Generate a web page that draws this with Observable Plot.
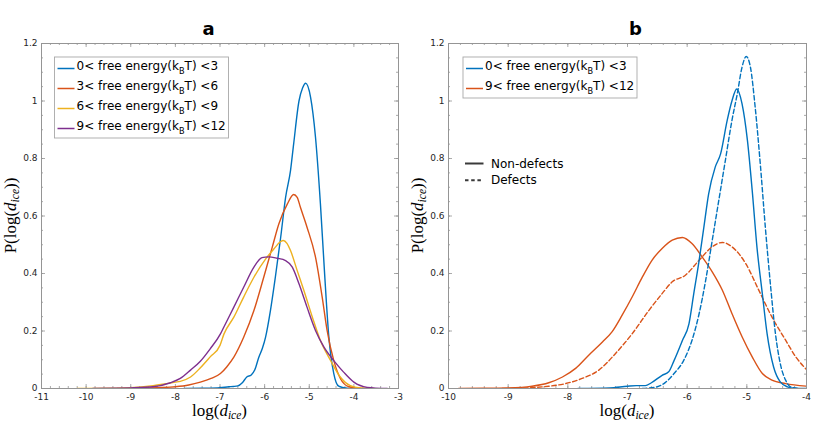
<!DOCTYPE html>
<html><head><meta charset="utf-8">
<script src="https://cdn.jsdelivr.net/npm/d3@7"></script>
<script src="https://cdn.jsdelivr.net/npm/@observablehq/plot@0.6"></script>
<style>
body{margin:0;background:#fff}
#wrap{position:relative;width:830px;height:432px;background:#fff}
#wrap svg{display:block;position:absolute;top:0;overflow:visible}
</style>
</head><body><div id="wrap"></div>
<script>
// ---------- tick labels ----------
const xTicksA = [-11,-10,-9,-8,-7,-6,-5,-4,-3];
const xTicksB = [-10,-9,-8,-7,-6,-5,-4];
const yTicks = [0,0.2,0.4,0.6,0.8,1,1.2];

// ---------- series labels & colours ----------
const labelsA = ["0< free energy(k|B|T) <3","3< free energy(k|B|T) <6","6< free energy(k|B|T) <9","9< free energy(k|B|T) <12"];
const colorsA = ["#0072BD","#D95319","#EDB120","#7E2F8E"];
const labelsB = ["0< free energy(k|B|T) <3","9< free energy(k|B|T) <12"];
const colorsB = ["#0072BD","#D95319"];
const styleLabels = ["Non-defects","Defects"];

// ---------- panel a: [log(d_ice), P] ----------
const a_fe0_3 = [[-7.8,0],[-7.4,0.001],[-7.0,0.003],[-6.8,0.006],[-6.7,0.007],[-6.6,0.009],[-6.5,0.02],[-6.4,0.04],[-6.3,0.047],[-6.22,0.065],[-6.13,0.109],[-6.05,0.14],[-5.98,0.178],[-5.87,0.271],[-5.76,0.387],[-5.64,0.526],[-5.53,0.665],[-5.42,0.758],[-5.35,0.85],[-5.23,1.0],[-5.15,1.045],[-5.08,1.062],[-4.97,1.013],[-4.86,0.874],[-4.75,0.643],[-4.66,0.41],[-4.56,0.178],[-4.45,0.052],[-4.34,0.008],[-4.15,0.001],[-4.0,0]];
const a_fe3_6 = [[-9.3,0],[-8.8,0.001],[-8.4,0.003],[-8.0,0.006],[-7.7,0.012],[-7.44,0.022],[-7.2,0.035],[-6.99,0.052],[-6.85,0.075],[-6.69,0.109],[-6.47,0.178],[-6.24,0.271],[-6.02,0.387],[-5.83,0.491],[-5.68,0.573],[-5.49,0.642],[-5.35,0.675],[-5.27,0.665],[-5.2,0.631],[-5.05,0.561],[-4.86,0.457],[-4.71,0.318],[-4.6,0.202],[-4.45,0.097],[-4.3,0.034],[-4.11,0.006],[-3.9,0.001],[-3.7,0]];
const a_fe6_9 = [[-10.2,0],[-9.5,0.001],[-9.0,0.003],[-8.5,0.01],[-8.0,0.022],[-7.89,0.025],[-7.66,0.04],[-7.44,0.072],[-7.22,0.11],[-7.0,0.15],[-6.91,0.19],[-6.69,0.248],[-6.47,0.318],[-6.24,0.387],[-5.98,0.45],[-5.79,0.486],[-5.65,0.51],[-5.58,0.515],[-5.5,0.505],[-5.42,0.48],[-5.27,0.41],[-5.12,0.341],[-4.93,0.248],[-4.75,0.167],[-4.52,0.097],[-4.3,0.039],[-4.08,0.01],[-3.85,0.002],[-3.56,0]];
const a_fe9_12 = [[-9.85,0],[-9.3,0.001],[-9.0,0.002],[-8.5,0.006],[-8.11,0.02],[-7.89,0.035],[-7.66,0.064],[-7.44,0.095],[-7.22,0.138],[-6.99,0.19],[-6.91,0.215],[-6.69,0.283],[-6.47,0.352],[-6.24,0.422],[-6.06,0.455],[-5.91,0.458],[-5.72,0.453],[-5.53,0.445],[-5.38,0.422],[-5.23,0.364],[-5.05,0.283],[-4.86,0.202],[-4.67,0.144],[-4.45,0.097],[-4.23,0.057],[-4.0,0.022],[-3.7,0.004],[-3.25,0]];

// ---------- panel b ----------
const b_fe0_3_non = [[-7.83,0],[-7.3,0.002],[-7.0,0.008],[-6.85,0.01],[-6.7,0.01],[-6.6,0.02],[-6.42,0.046],[-6.31,0.058],[-6.22,0.097],[-6.08,0.167],[-5.97,0.225],[-5.89,0.329],[-5.8,0.445],[-5.72,0.561],[-5.64,0.677],[-5.53,0.77],[-5.44,0.816],[-5.33,0.932],[-5.25,1.0],[-5.17,1.042],[-5.08,0.99],[-4.99,0.863],[-4.91,0.689],[-4.83,0.491],[-4.74,0.329],[-4.66,0.19],[-4.55,0.074],[-4.44,0.023],[-4.32,0.006],[-4.2,0.001],[-4.0,0]];
const b_fe0_3_def = [[-6.75,0],[-6.5,0.006],[-6.39,0.017],[-6.22,0.052],[-6.06,0.097],[-5.92,0.167],[-5.8,0.26],[-5.69,0.376],[-5.58,0.515],[-5.47,0.654],[-5.36,0.793],[-5.25,0.932],[-5.16,1.025],[-5.08,1.118],[-5.01,1.155],[-4.94,1.118],[-4.86,0.978],[-4.77,0.77],[-4.69,0.561],[-4.6,0.352],[-4.52,0.19],[-4.44,0.087],[-4.35,0.029],[-4.27,0.006],[-4.15,0]];
const b_fe9_12_non = [[-9.83,0],[-9.4,0.001],[-8.99,0.002],[-8.6,0.008],[-8.32,0.02],[-8.09,0.04],[-7.87,0.07],[-7.65,0.116],[-7.42,0.162],[-7.26,0.197],[-7.09,0.255],[-6.92,0.319],[-6.75,0.388],[-6.59,0.446],[-6.42,0.487],[-6.25,0.516],[-6.08,0.525],[-5.92,0.504],[-5.75,0.458],[-5.58,0.406],[-5.41,0.342],[-5.25,0.261],[-5.08,0.18],[-4.91,0.11],[-4.74,0.052],[-4.58,0.029],[-4.35,0.017],[-4.0,0.008]];
const b_fe9_12_def = [[-9.1,0],[-8.6,0.003],[-8.32,0.008],[-8.04,0.017],[-7.76,0.035],[-7.48,0.064],[-7.2,0.122],[-6.92,0.191],[-6.64,0.272],[-6.42,0.33],[-6.25,0.371],[-6.03,0.394],[-5.8,0.446],[-5.58,0.493],[-5.41,0.508],[-5.25,0.493],[-5.02,0.435],[-4.8,0.342],[-4.58,0.249],[-4.35,0.168],[-4.18,0.11],[-4.0,0.066]];

const AX = "#959595";
const TXT = "#262626";

function panel({W, xDomain, xTicks, series, ml, mr, title, titleX, ylabX}) {
  const H = 432, mt = 43, mb = 44;
  const iw = W - ml - mr, ih = H - mt - mb;
  const pxX = iw / (xDomain[1] - xDomain[0]);
  const pxY = ih / 1.2;
  const lx = p => p / pxX, ly = p => p / pxY;
  const xMinor = d3.range(xDomain[0], xDomain[1] + 1e-9, 0.2).map(v => +v.toFixed(2));
  const yMinor = d3.range(0, 1.2 + 1e-9, 0.05).map(v => +v.toFixed(2));
  const [x0, x1] = xDomain;
  const tickStyle = {stroke: AX, strokeWidth: 0.8};
  const marks = [
    Plot.ruleX(xMinor, {x: d => d, y1: 0, y2: ly(2), ...tickStyle}),
    Plot.ruleX(xMinor, {x: d => d, y1: 1.2, y2: 1.2 - ly(2), ...tickStyle}),
    Plot.ruleX(xTicks, {x: d => d, y1: 0, y2: ly(4), ...tickStyle}),
    Plot.ruleX(xTicks, {x: d => d, y1: 1.2, y2: 1.2 - ly(4), ...tickStyle}),
    Plot.ruleY(yMinor, {y: d => d, x1: x0, x2: x0 + lx(2), ...tickStyle}),
    Plot.ruleY(yMinor, {y: d => d, x1: x1, x2: x1 - lx(2), ...tickStyle}),
    Plot.ruleY(yTicks, {y: d => d, x1: x0, x2: x0 + lx(4), ...tickStyle}),
    Plot.ruleY(yTicks, {y: d => d, x1: x1, x2: x1 - lx(4), ...tickStyle}),
    Plot.frame({stroke: AX, strokeWidth: 1}),
    ...series.map(s => Plot.line(s.data, {x: d => d[0], y: d => d[1], stroke: s.color, strokeWidth: 1.4,
      strokeDasharray: s.dash ? "4.5,2.6" : null, curve: "monotone-x", clip: true})),
    Plot.axisX({ticks: xTicks, tickSize: 0, tickPadding: 5.5, tickFormat: d => String(d), label: null, fill: TXT}),
    Plot.axisY({ticks: yTicks, tickSize: 0, tickPadding: 4, tickFormat: d => String(d), label: null, fill: TXT})
  ];
  const svg = Plot.plot({
    width: W, height: H, marginLeft: ml, marginRight: mr, marginTop: mt, marginBottom: mb,
    x: {domain: xDomain}, y: {domain: [0, 1.2]},
    style: {fontFamily: "DejaVu Sans", fontSize: "9px", color: TXT, background: "transparent", overflow: "visible"},
    marks
  });
  const s = d3.select(svg);
  // title
  s.append("text").attr("x", titleX).attr("y", 34.5).attr("text-anchor", "middle")
    .attr("font-family", "DejaVu Sans").attr("font-weight", "bold").attr("font-size", 18).attr("fill", "#000").text(title);
  // x label
  const cx = ml + iw / 2;
  const xl = s.append("text").attr("x", cx).attr("y", 416).attr("text-anchor", "middle")
    .attr("font-family", "Liberation Serif").attr("font-size", 17).attr("fill", "#000");
  xl.append("tspan").text("log(");
  xl.append("tspan").attr("font-style", "italic").text("d");
  xl.append("tspan").attr("font-style", "italic").attr("font-size", 11.5).attr("dy", 3).text("ice");
  xl.append("tspan").attr("dy", -3).text(")");
  // y label
  const cy = mt + ih / 2;
  const yl = s.append("text").attr("transform", `translate(${ylabX},${cy}) rotate(-90)`).attr("text-anchor", "middle")
    .attr("font-family", "Liberation Serif").attr("font-size", 17).attr("fill", "#000");
  yl.append("tspan").text("P(log(");
  yl.append("tspan").attr("font-style", "italic").text("d");
  yl.append("tspan").attr("font-style", "italic").attr("font-size", 11.5).attr("dy", 3).text("ice");
  yl.append("tspan").attr("dy", -3).text("))");
  return svg;
}

function legendText(g, x, y, label) {
  const [pre, sub, post] = label.split("|");
  const t = g.append("text").attr("x", x).attr("y", y).attr("text-anchor", "start")
    .attr("font-family", "DejaVu Sans").attr("font-size", 12).attr("fill", "#000");
  t.append("tspan").text(pre);
  t.append("tspan").attr("font-size", 8.2).attr("dy", 3.5).text(sub);
  t.append("tspan").attr("dy", -3.5).text(post);
}

function colorLegend(svg, {x, y, w, labels, colors}) {
  const s = d3.select(svg);
  const g = s.append("g");
  const h = labels.length * 20 + 1;
  g.append("rect").attr("x", x).attr("y", y).attr("width", w).attr("height", h)
    .attr("fill", "#fff").attr("stroke", "#a8a8a8").attr("stroke-width", 0.9);
  labels.forEach((lab, i) => {
    const yy = y + 11.5 + i * 20;
    g.append("line").attr("x1", x + 3).attr("x2", x + 20).attr("y1", yy).attr("y2", yy)
      .attr("stroke", colors[i]).attr("stroke-width", 1.5);
    legendText(g, x + 22, yy + 1.8, lab);
  });
}

const wrap = document.getElementById("wrap");

const svgA = panel({
  W: 415, xDomain: [-11, -3], xTicks: xTicksA, ml: 41, mr: 17, title: "a", titleX: 208.5, ylabX: 16,
  series: [
    {data: a_fe0_3, color: colorsA[0]},
    {data: a_fe3_6, color: colorsA[1]},
    {data: a_fe6_9, color: colorsA[2]},
    {data: a_fe9_12, color: colorsA[3]}
  ]
});
colorLegend(svgA, {x: 54.5, y: 57, w: 174, labels: labelsA, colors: colorsA});

const offB = 400;
const svgB = panel({
  W: 430, xDomain: [-10, -4], xTicks: xTicksB, ml: 48, mr: 24, title: "b", titleX: 635.5 - offB, ylabX: 423 - offB,
  series: [
    {data: b_fe9_12_def, color: colorsB[1], dash: true},
    {data: b_fe9_12_non, color: colorsB[1]},
    {data: b_fe0_3_def, color: colorsB[0], dash: true},
    {data: b_fe0_3_non, color: colorsB[0]}
  ]
});
colorLegend(svgB, {x: 463 - offB, y: 57, w: 174, labels: labelsB, colors: colorsB});
{
  const s = d3.select(svgB);
  styleLabels.forEach((lab, i) => {
    const yy = 163.5 + i * 16.7;
    s.append("line").attr("x1", 465 - offB).attr("x2", 483.5 - offB).attr("y1", yy).attr("y2", yy)
      .attr("stroke", "#3a3a3a").attr("stroke-width", 2).attr("stroke-dasharray", i ? "3.5,2.7" : null);
    s.append("text").attr("x", 491 - offB).attr("y", yy + 4).attr("text-anchor", "start")
      .attr("font-family", "DejaVu Sans").attr("font-size", 12).attr("fill", "#000").text(lab);
  });
}

svgA.style.left = "0px";
svgB.style.left = offB + "px";
wrap.appendChild(svgA);
wrap.appendChild(svgB);
</script>
</body></html>
